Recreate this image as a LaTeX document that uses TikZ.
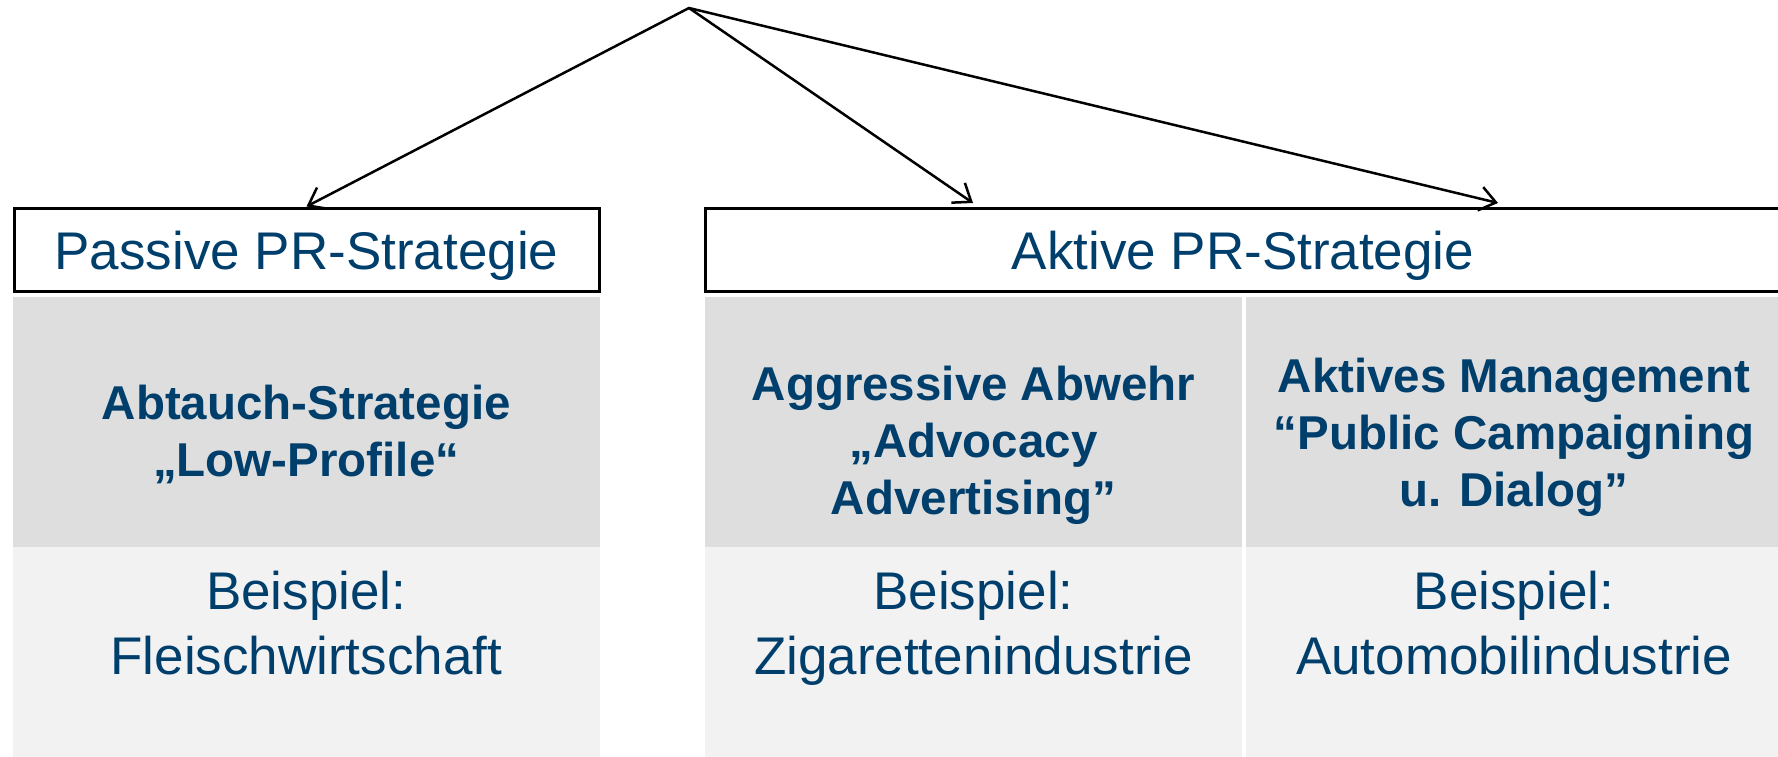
\documentclass[tikz,border=0pt]{standalone}
\usepackage{fontspec}
\setmainfont{Liberation Sans}
\usetikzlibrary{arrows.meta}
\definecolor{txtblue}{RGB}{0,62,108}
\definecolor{cellDark}{RGB}{222,222,222}
\definecolor{cellLight}{RGB}{242,242,242}
\begin{document}
\begin{tikzpicture}[x=1pt,y=-1pt,
  hdr/.style={draw=black, line width=3pt, fill=white, text=txtblue,
    font=\fontsize{53}{64}\selectfont, inner sep=0pt,
    text height=39pt, text depth=0pt, minimum height=83pt},
  celld/.style={fill=cellDark, draw=none, inner sep=0pt, minimum height=250pt},
  celll/.style={fill=cellLight, draw=none, inner sep=0pt, minimum height=213pt},
  boldtxt/.style={text=txtblue, font=\fontsize{47.5}{57}\selectfont\bfseries,
    anchor=base, inner sep=0pt},
  plaintxt/.style={text=txtblue, font=\fontsize{53}{65}\selectfont,
    anchor=base, inner sep=0pt},
  conn/.style={line width=2.5pt, line cap=round, line join=round,
    -{Straight Barb[length=16pt,width=24pt]}}
]
\useasboundingbox (0,0) rectangle (1778,757);
\clip (0,0) rectangle (1778,757);
\fill[white] (0,0) rectangle (1778,757);

% header boxes
\node[hdr, minimum width=585pt] (passive) at (306.5,249.5) {Passive PR-Strategie};
\node[hdr, minimum width=1076pt] (aktive) at (1243,249.5) {Aktive PR-Strategie};

% cells
\node[celld, minimum width=587.5pt] (d1) at (306.25,422) {};
\node[celld, minimum width=537pt] (d2) at (973.5,422) {};
\node[celld, minimum width=536pt] (d3) at (1514,422) {};
\node[celll, minimum width=587.5pt] (l1) at (306.25,653.5) {};
\node[celll, minimum width=537pt] (l2) at (973.5,653.5) {};
\node[celll, minimum width=536pt] (l3) at (1514,653.5) {};

% bold texts
\node[boldtxt] (t1a) at (306.25,419) {Abtauch-Strategie};
\node[boldtxt] (t1b) at (306.25,476) {„Low-Profile“};
\node[boldtxt] (t2a) at (973.5,400) {Aggressive Abwehr};
\node[boldtxt] (t2b) at (973.5,457) {„Advocacy};
\node[boldtxt] (t2c) at (973.5,514) {Advertising”};
\node[boldtxt] (t3a) at (1514,392) {Aktives Management};
\node[boldtxt] (t3b) at (1514,449) {“Public Campaigning};
\node[boldtxt] (t3c) at (1514,506) {u. Dialog”};

% example texts
\node[plaintxt] (b1a) at (306.25,609) {Beispiel:};
\node[plaintxt] (b1b) at (306.25,674) {Fleischwirtschaft};
\node[plaintxt] (b2a) at (973.5,609) {Beispiel:};
\node[plaintxt] (b2b) at (973.5,674) {Zigarettenindustrie};
\node[plaintxt] (b3a) at (1514,609) {Beispiel:};
\node[plaintxt] (b3b) at (1514,674) {Automobilindustrie};

% connectors
\coordinate (apex) at (689,8);
\coordinate (a2) at (973,203);
\coordinate (a3) at (1498,203);
\draw[conn] (apex) -- (passive.north);
\draw[conn] (apex) -- (a2);
\draw[conn] (apex) -- (a3);
\end{tikzpicture}
\end{document}
